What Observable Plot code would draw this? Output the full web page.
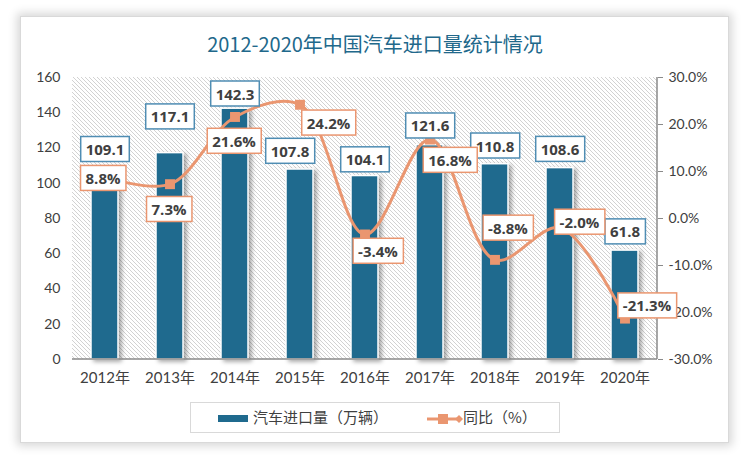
<!DOCTYPE html>
<html><head><meta charset="utf-8">
<script src="https://cdn.jsdelivr.net/npm/d3@7"></script>
<script src="https://cdn.jsdelivr.net/npm/@observablehq/plot@0.6"></script>
<style>
body{margin:0;background:#fff;width:750px;height:460px;position:relative;overflow:hidden;font-family:"Noto Sans CJK SC",sans-serif}
#card{position:absolute;left:20px;top:16px;width:707px;height:425px;background:#fff;border:1px solid #d9d9d9;box-shadow:0 0 9px 3px rgba(0,0,0,0.16)}
#title{position:absolute;left:0;top:30px;width:750px;text-align:center;font-size:20px;line-height:28px;color:#21688b;font-family:"Noto Sans CJK SC",sans-serif}
#wrap{position:absolute;left:0;top:0}
#legend{position:absolute;left:190px;top:402px;width:370px;height:31px;border:1px solid #d9d9d9;box-sizing:border-box;background:#fff;font-size:15px;color:#404040;font-family:"Noto Sans CJK SC",sans-serif}
#legend .sw{position:absolute;left:27px;top:12px;width:30px;height:7px;background:#1f6a8e}
#legend .t1{position:absolute;left:62px;top:3px;line-height:22px}
#legend svg{position:absolute;left:235px;top:6px}
#legend .t2{position:absolute;left:272px;top:3px;line-height:22px}
</style></head>
<body>
<div id="card"></div>
<div id="wrap"></div>
<div id="title">2012-2020年中国汽车进口量统计情况</div>
<div id="legend"><span class="sw"></span><span class="t1">汽车进口量（万辆）</span>
<svg width="38" height="20"><line x1="1" x2="33" y1="10" y2="10" stroke="#ea9670" stroke-width="3"/><rect x="12" y="5" width="10" height="10" fill="#ea9670"/><path d="M33,6L37,10L33,14L29,10Z" fill="#ea9670"/></svg>
<span class="t2">同比（%）</span></div>
<script>
// ---- data ----
const years = ["2012年","2013年","2014年","2015年","2016年","2017年","2018年","2019年","2020年"];
const imports = [109.1, 117.1, 142.3, 107.8, 104.1, 121.6, 110.8, 108.6, 61.8];
const growth = [8.8, 7.3, 21.6, 24.2, -3.4, 16.8, -8.8, -2.0, -21.3];
const leftTicks = [0, 20, 40, 60, 80, 100, 120, 140, 160];
const rightTicks = [-30, -20, -10, 0, 10, 20, 30];

// secondary axis (-30%..30%) mapped onto the primary 0..160 scale
const toY = p => (p + 30) / 60 * 160;
const fromY = v => v / 160 * 60 - 30;
const rows = years.map((year, i) => ({year, value: imports[i], rate: growth[i], rateY: toY(growth[i])}));

// label nudges (px) relative to their anchor
const barNudge = [[0,-17],[0,-35.5],[0,-14],[-10,-17.5],[0,-15.5],[0,-18.5],[0,-17.5],[0,-18],[0,-18]];
const rateNudge = [[-2,2],[-1,26],[-1,25],[28.5,19],[13,17.5],[20,21.5],[13,-31],[19.5,-5],[22,-12]];

const FONT = 'Lato, "Noto Sans CJK SC", sans-serif';
const LFONT = '"Open Sans", sans-serif';
const BLUE = "#1f6a8e", ORANGE = "#ea9670";

const hatch = (index, scales, values, d) => {
  const g = d3.create("svg:g");
  const pat = g.append("defs").append("pattern").attr("id", "hatch")
    .attr("patternUnits", "userSpaceOnUse").attr("width", 4).attr("height", 4);
  pat.append("rect").attr("width", 4).attr("height", 4).attr("fill", "#fff");
  pat.append("path").attr("d", "M0,0L4,4M-1,3L1,5M3,-1L5,1").attr("stroke", "#d2d2d2").attr("stroke-width", 1);
  g.append("rect").attr("x", d.marginLeft).attr("y", d.marginTop)
    .attr("width", d.width - d.marginLeft - d.marginRight)
    .attr("height", d.height - d.marginTop - d.marginBottom).attr("fill", "url(#hatch)");
  return g.node();
};
const axisLines = (index, scales, values, d) => {
  const g = d3.create("svg:g").attr("stroke", "#8a8a8a").attr("stroke-width", 1.5);
  const x0 = d.marginLeft, x1 = d.width - d.marginRight, y0 = d.marginTop, y1 = d.height - d.marginBottom;
  g.append("line").attr("x1", x0).attr("x2", x1).attr("y1", y1).attr("y2", y1);
  g.append("line").attr("x1", x1).attr("x2", x1).attr("y1", y0).attr("y2", y1);
  return g.node();
};

const chart = Plot.plot({
  width: 750, height: 400,
  marginLeft: 72, marginRight: 93, marginTop: 77, marginBottom: 41,
  style: {background: "transparent", fontFamily: FONT, fontSize: "14px", color: "#404040", overflow: "visible"},
  x: {domain: years, paddingInner: 0.58, paddingOuter: 0.29, label: null},
  y: {domain: [0, 160], label: null},
  marks: [
    hatch,
    Plot.barY(rows, {x: "year", y: "value", fill: BLUE, stroke: "#fff", strokeWidth: 1.5}),
    axisLines,
    Plot.axisY({ticks: leftTicks, anchor: "left", tickSize: 0, tickPadding: 12, fontSize: 14}),
    Plot.axisY({ticks: rightTicks.map(toY), anchor: "right", tickSize: 5, tickPadding: 6, stroke: "#8a8a8a",
      fontSize: 14, tickFormat: v => fromY(v).toFixed(1) + "%"}),
    Plot.axisX({tickSize: 0, tickPadding: 13, fontSize: 15}),
    Plot.line(rows, {x: "year", y: "rateY", stroke: ORANGE, strokeWidth: 3, curve: "catmull-rom"}),
    Plot.dot(rows, {x: "year", y: "rateY", symbol: "square", r: 5.6, fill: ORANGE}),
    ...rows.map((d, i) => Plot.text([d], {x: "year", y: "value", text: r => r.value.toFixed(1),
      dx: barNudge[i][0], dy: barNudge[i][1], fontWeight: "bold", fontSize: 15, fontFamily: LFONT,
      fill: "#404040", ariaDescription: "bar-label"})),
    ...rows.map((d, i) => Plot.text([d], {x: "year", y: "rateY", text: r => r.rate.toFixed(1) + "%",
      dx: rateNudge[i][0], dy: rateNudge[i][1], fontWeight: "bold", fontSize: 15, fontFamily: LFONT,
      fill: "#404040", ariaDescription: "rate-label"}))
  ]
});
document.getElementById("wrap").append(chart);

d3.select(chart).selectAll('g[aria-label="bar"]').style("filter", "drop-shadow(3px 2px 2px rgba(0,0,0,0.35))");
for (const [desc, col] of [["bar-label", "#4f8db3"], ["rate-label", ORANGE]]) {
  d3.select(chart).selectAll(`g[aria-description="${desc}"] text`).each(function () {
    const b = this.getBBox();
    const rect = document.createElementNS("http://www.w3.org/2000/svg", "rect");
    rect.setAttribute("x", b.x - 5);
    rect.setAttribute("y", b.y + b.height / 2 - 12.5);
    rect.setAttribute("width", b.width + 10);
    rect.setAttribute("height", 25);
    rect.setAttribute("fill", "#fff");
    rect.setAttribute("stroke", col);
    rect.setAttribute("stroke-width", 1.5);
    const t = this.getAttribute("transform");
    if (t) rect.setAttribute("transform", t);
    this.parentNode.insertBefore(rect, this);
  });
}
</script>
</body></html>
